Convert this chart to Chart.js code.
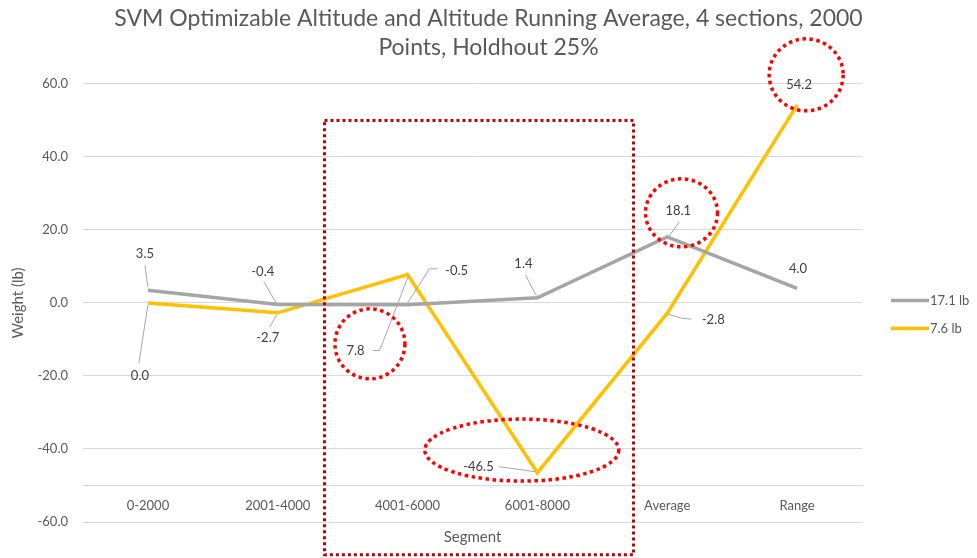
<!DOCTYPE html>
<html>
<head>
<meta charset="utf-8">
<script src="https://cdn.jsdelivr.net/npm/chart.js@4/dist/chart.umd.min.js"></script>
<style>
  html, body { margin: 0; padding: 0; background: #fff; }
  #wrap { width: 977px; height: 558px; }
</style>
</head>
<body>
<div id="wrap"><canvas id="lineChart"></canvas></div>
<script>
// --- data ---
const CATEGORIES   = ['0-2000', '2001-4000', '4001-6000', '6001-8000', 'Average', 'Range'];
const SERIES_NAMES = ['17.1 lb', '7.6 lb'];
const GRAY_VALUES  = [3.5, -0.4, -0.5, 1.4, 18.1, 4.0];
const GOLD_VALUES  = [0.0, -2.7, 7.8, -46.5, -2.8, 54.2];
const Y_TICKS      = [-60, -40, -20, 0, 20, 40, 60];

const TEXT_COLOR = '#595959';
const FONT       = 'Lato';

// label placement (pixel offsets from each point) + leader lines
const LABEL_LAYOUT = [
  [
    { dx: -3,  dy: -36, lead: [[0, -3], [-3, -25]] },
    { dx: -15, dy: -33, lead: [[-2, -2], [-14, -23]] },
    { dx: 49,  dy: -34, lead: [[0, -2], [22, -36], [30, -36]] },
    { dx: -14, dy: -34, lead: [[-1, -2], [-12, -23]] },
    { dx: 11,  dy: -26, lead: [[2, -1], [12, -15]] },
    { dx: 1,   dy: -20 },
  ],
  [
    { dx: -8,  dy: 73,  lead: [[0, 2], [-9, 60]] },
    { dx: -10, dy: 25,  lead: [[-1, 2], [-8, 14]] },
    { dx: -52, dy: 76,  lead: [[1, 1], [-28, 76], [-35, 76]] },
    { dx: -59, dy: -6,  lead: [[-2, -1], [-38, -6]] },
    { dx: 46,  dy: 7,   lead: [[1, 1], [14, 5], [24, 6]] },
    { dx: 2,   dy: -20 },
  ],
];

// red hand-drawn markup, placed in data units (category index / value)
const MARKUP = [
  { kind: 'rect',    x0: 1.36, x1: 3.74, y0: 50, y1: -69, color: '#C00000' },
  { kind: 'ellipse', x: 1.71, y: -11.2, rx: 35, ry: 35, color: '#FF0000' },
  { kind: 'ellipse', x: 2.88, y: -40.3, rx: 97, ry: 31, color: '#FF0000' },
  { kind: 'ellipse', x: 4.11, y: 24.7,  rx: 36, ry: 34, color: '#FF0000' },
  { kind: 'ellipse', x: 5.07, y: 62.5,  rx: 37, ry: 36, color: '#FF0000' },
];

const annotatePlugin = {
  id: 'annotate',
  afterDatasetsDraw(chart) {
    const { ctx } = chart;
    ctx.save();
    chart.data.datasets.forEach((ds, di) => {
      const meta = chart.getDatasetMeta(di);
      meta.data.forEach((pt, i) => {
        const lay = LABEL_LAYOUT[di][i];
        if (lay.lead) {
          ctx.beginPath();
          ctx.strokeStyle = '#A6A6A6';
          ctx.lineWidth = 1;
          lay.lead.forEach(([lx, ly], k) =>
            k ? ctx.lineTo(pt.x + lx, pt.y + ly) : ctx.moveTo(pt.x + lx, pt.y + ly));
          ctx.stroke();
        }
        ctx.fillStyle = '#404040';
        ctx.font = `13px ${FONT}`;
        ctx.textAlign = 'center';
        ctx.textBaseline = 'middle';
        ctx.fillText(ds.data[i].toFixed(1), pt.x + lay.dx, pt.y + lay.dy);
      });
    });
    ctx.restore();
  },
  afterDraw(chart) {
    const { ctx, chartArea, scales: { x, y } } = chart;
    ctx.save();
    ctx.lineCap = 'butt';
    MARKUP.forEach(m => {
      ctx.strokeStyle = m.color;
      ctx.beginPath();
      if (m.kind === 'rect') {
        ctx.lineWidth = 3;
        ctx.setLineDash([3, 3]);
        const l = x.getPixelForValue(m.x0), r = x.getPixelForValue(m.x1);
        const t = y.getPixelForValue(m.y0), b = y.getPixelForValue(m.y1);
        ctx.rect(l, t, r - l, b - t);
      } else {
        ctx.lineWidth = 3.5;
        ctx.setLineDash([3.5, 3.5]);
        ctx.ellipse(x.getPixelForValue(m.x), y.getPixelForValue(m.y), m.rx, m.ry, 0, 0, Math.PI * 2);
      }
      ctx.stroke();
    });
    ctx.setLineDash([]);

    // legend at the right, Excel style: short line then the name
    const mid = (chartArea.top + chartArea.bottom) / 2;
    chart.data.datasets.forEach((ds, i) => {
      const ly = mid - 2.5 + i * 28;
      const lx = chartArea.right + 29;
      ctx.strokeStyle = ds.borderColor;
      ctx.lineWidth = 3.5;
      ctx.beginPath();
      ctx.moveTo(lx, ly);
      ctx.lineTo(lx + 38, ly);
      ctx.stroke();
      ctx.fillStyle = TEXT_COLOR;
      ctx.font = `13px ${FONT}`;
      ctx.textAlign = 'left';
      ctx.textBaseline = 'middle';
      ctx.fillText(ds.label, lx + 39, ly);
    });
    ctx.restore();
  }
};

new Chart(document.getElementById('lineChart'), {
  type: 'line',
  data: {
    labels: CATEGORIES,
    datasets: [
      { label: SERIES_NAMES[0], data: GRAY_VALUES, borderColor: '#A5A5A5', backgroundColor: '#A5A5A5',
        borderWidth: 3.5, pointRadius: 0, tension: 0 },
      { label: SERIES_NAMES[1], data: GOLD_VALUES, borderColor: '#FFC000', backgroundColor: '#FFC000',
        borderWidth: 3.5, pointRadius: 0, tension: 0 },
    ]
  },
  options: {
    responsive: true, maintainAspectRatio: false, animation: false,
    layout: { padding: { left: 0, right: 0, top: 0, bottom: 36 } },
    plugins: {
      title: {
        display: true,
        text: ['SVM Optimizable Altitude and Altitude Running Average, 4 sections, 2000', 'Points, Holdhout 25%'],
        color: TEXT_COLOR, font: { family: FONT, size: 23, weight: 'normal', lineHeight: 1.26 },
        padding: { top: 4, bottom: 22 }
      },
      legend: { display: false },
      tooltip: { enabled: false }
    },
    scales: {
      x: {
        position: { y: -50 },
        offset: true,
        grid: { display: false, drawTicks: false },
        border: { display: true, color: '#D9D9D9', width: 1 },
        ticks: { color: TEXT_COLOR, font: { family: FONT, size: 13 }, padding: 13, maxRotation: 0 },
        title: { display: true, text: 'Segment', color: TEXT_COLOR, font: { family: FONT, size: 15 }, padding: { top: 1 } }
      },
      y: {
        min: -60, max: 60,
        afterBuildTicks: s => { s.ticks = Y_TICKS.map(v => ({ value: v })); },
        afterFit: s => { s.width = 83; },
        grid: { color: '#D9D9D9', drawTicks: false },
        border: { display: false },
        ticks: { color: TEXT_COLOR, font: { family: FONT, size: 13 }, padding: 15, callback: v => v.toFixed(1) },
        title: { display: true, text: 'Weight (lb)', color: TEXT_COLOR, font: { family: FONT, size: 15 }, padding: { top: 9, bottom: 4 } }
      },
      // empty right-hand axis: only reserves room for the legend
      legendRoom: {
        type: 'linear', position: 'right', min: -60, max: 60,
        afterFit: s => { s.width = 115; },
        grid: { display: false, drawTicks: false },
        border: { display: false },
        ticks: { display: false }
      }
    }
  },
  plugins: [annotatePlugin]
});
</script>
</body>
</html>
